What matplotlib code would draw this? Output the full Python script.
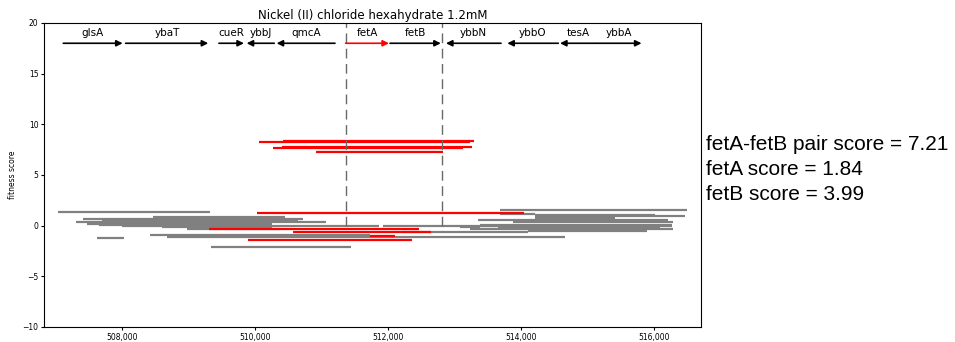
import matplotlib
matplotlib.use("Agg")
import matplotlib.pyplot as plt
from matplotlib.ticker import FuncFormatter

# genes: name, start, end, strand
gene_names = ["glsA", "ybaT", "cueR", "ybbJ", "qmcA", "fetA", "fetB", "ybbN", "ybbO", "tesA", "ybbA"]
gene_starts = [507110, 508048, 509452, 509869, 510320, 511359, 512026, 512868, 513791, 514584, 515140]
gene_ends = [508003, 509291, 509828, 510284, 511198, 512010, 512790, 513696, 514558, 515130, 515810]
gene_strands = ["+", "+", "+", "-", "-", "+", "+", "-", "-", "-", "+"]

# fitness segments spanning the fetA/fetB pair (red)
red_starts = [510411, 510054, 510396, 510260, 510912, 510020, 509306, 510567, 511725, 509893]
red_ends = [513290, 513229, 513255, 513129, 512828, 514047, 512462, 512649, 512101, 512352]
red_scores = [8.39, 8.26, 7.80, 7.63, 7.24, 1.23, -0.33, -0.59, -1.02, -1.46]

# other fitness segments (grey)
grey_starts = [507029, 507405, 508459, 508459, 507692, 507300, 507466, 507646, 507992, 508594,
               508971, 508414, 508670, 507616, 509332, 511920, 513230, 512206,
               513681, 513681, 514208, 514208, 514208, 513350, 513877, 513380, 513651,
               513079, 514103, 514103]
grey_ends = [509317, 510717, 510446, 510446, 510641, 511063, 510250, 510250, 511860, 510250,
             510370, 511725, 514660, 508023, 511439, 516270, 516285, 514103,
             516496, 514208, 516014, 516466, 515412, 516210, 516285, 516270, 516089,
             513380, 515668, 515894]
grey_scores = [1.32, 0.63, 0.81, 0.70, 0.53, 0.34, 0.17, 0.07, -0.06, -0.18,
               -0.30, -0.97, -1.09, -1.21, -2.07, -0.03, -0.36, -0.62,
               1.55, 1.11, 1.01, 0.91, 0.76, 0.56, 0.39, 0.07, -0.10,
               -0.16, -0.42, -0.52]

focal_bounds = [511359, 512815]
score_lines = ["fetA-fetB pair score = 7.21", "fetA score = 1.84", "fetB score = 3.99"]

fig = plt.figure(figsize=(9.55, 3.42), dpi=100)
ax = fig.add_axes([44 / 955, 15 / 342, 657 / 955, 304 / 342])

ax.hlines(grey_scores, grey_starts, grey_ends, colors="grey", lw=1.6)
ax.hlines(red_scores, red_starts, red_ends, colors="red", lw=1.6)

# boundaries of the gene pair
ax.vlines(focal_bounds, 0, 20, colors="dimgray", lw=1, linestyles=(0, (7, 4)))

# gene arrows with labels
for name, s, e, strand in zip(gene_names, gene_starts, gene_ends, gene_strands):
    col = "red" if name == "fetA" else "black"
    tail, head = (s, e) if strand == "+" else (e, s)
    ax.annotate("", xy=(head, 18), xytext=(tail, 18),
                arrowprops=dict(arrowstyle="-|>", color=col, lw=1.2,
                                shrinkA=0, shrinkB=0, mutation_scale=9))
    ax.text((s + e) / 2, 18.73, name, ha="center", va="baseline", fontsize=7.5)

ax.set_xlim(506820, 516705)
ax.set_ylim(-10, 20)
ax.set_xticks([508000, 510000, 512000, 514000, 516000])
ax.xaxis.set_major_formatter(FuncFormatter(lambda v, p: f"{int(v):,}"))
ax.tick_params(labelsize=5.5, length=2.5, pad=1.5)
ax.set_ylabel("fitness score", fontsize=5.5)
ax.set_title("Nickel (II) chloride hexahydrate 1.2mM", fontsize=8.5, pad=3)

for i, line in enumerate(score_lines):
    fig.text(706 / 955, 1 - (149.5 + 25.5 * i) / 342, line, fontsize=15,
             family="Liberation Sans", va="baseline", ha="left")

fig.savefig("out.png", dpi=100)
